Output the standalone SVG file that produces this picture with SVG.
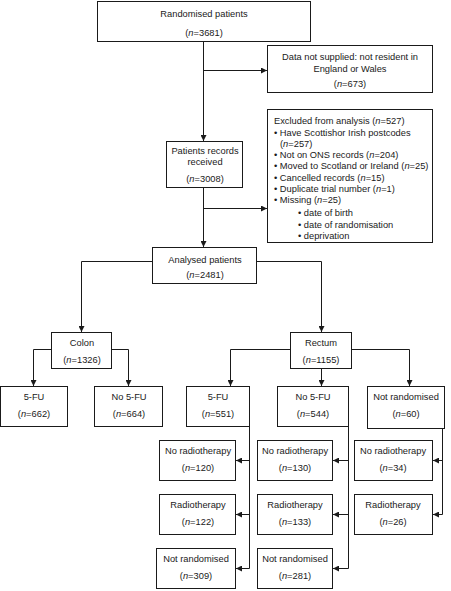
<svg xmlns="http://www.w3.org/2000/svg" width="451" height="591" viewBox="0 0 451 591">
<defs>
<marker id="ah" viewBox="0 0 6 6" refX="6" refY="3" markerWidth="6" markerHeight="6" markerUnits="userSpaceOnUse" orient="auto">
<path d="M0,0 L6,3 L0,6 Z" fill="#1a1a1a"/>
</marker>
<style>
.b{fill:#fff;stroke:#1a1a1a;stroke-width:1}
.c{fill:none;stroke:#1a1a1a;stroke-width:1}
.a{marker-end:url(#ah)}
text{font-family:"Liberation Sans",Arial,sans-serif;font-size:9.3px;fill:#1a1a1a}
.m{text-anchor:middle}
</style>
</defs>
<rect width="451" height="591" fill="#fff"/>
<g id="connectors">
<path class="c a" d="M203.5,42 V141"/>
<path class="c a" d="M203.5,70.5 H267"/>
<path class="c a" d="M203.5,188 V247"/>
<path class="c a" d="M203.5,208.5 H267"/>
<path class="c a" d="M152,261.5 H81.5 V332"/>
<path class="c a" d="M257,261.5 H321.5 V332"/>
<path class="c a" d="M51,349.5 H33.5 V386"/>
<path class="c a" d="M112,349.5 H128.5 V386"/>
<path class="c a" d="M290,349.5 H230.5 V386"/>
<path class="c a" d="M321.5,368 V386"/>
<path class="c a" d="M352,349.5 H409.5 V386"/>
<path class="c a" d="M249.5,426 V568.5 H236"/>
<path class="c a" d="M249.5,460.5 H236"/>
<path class="c a" d="M249.5,514.5 H236"/>
<path class="c a" d="M348.5,426 V568.5 H333"/>
<path class="c a" d="M348.5,460.5 H333"/>
<path class="c a" d="M348.5,514.5 H333"/>
<path class="c a" d="M442.5,429 V514.5 H433"/>
<path class="c a" d="M442.5,460.5 H433"/>
</g>
<g id="randomised">
<rect class="b" x="97.5" y="1.5" width="213" height="40"/>
<text class="m" x="204" y="17">Randomised patients</text>
<text class="m" x="204" y="36">(<tspan font-style="italic">n</tspan>=3681)</text>
</g>
<g id="not-supplied">
<rect class="b" x="267.5" y="45.5" width="165" height="47"/>
<text class="m" x="350" y="60">Data not supplied: not resident in</text>
<text class="m" x="350" y="72">England or Wales</text>
<text class="m" x="350" y="87">(<tspan font-style="italic">n</tspan>=673)</text>
</g>
<g id="records">
<rect class="b" x="166.5" y="141.5" width="76" height="46"/>
<text class="m" x="205" y="154">Patients records</text>
<text class="m" x="205" y="165">received</text>
<text class="m" x="205" y="182">(<tspan font-style="italic">n</tspan>=3008)</text>
</g>
<g id="excluded">
<rect class="b" x="267.5" y="109.5" width="165" height="133"/>
<text x="274" y="124">Excluded from analysis (<tspan font-style="italic">n</tspan>=527)</text>
<text x="274" y="135.5">• Have Scottishor Irish postcodes</text>
<text x="280" y="146.5">(<tspan font-style="italic">n</tspan>=257)</text>
<text x="274" y="157.5">• Not on ONS records (<tspan font-style="italic">n</tspan>=204)</text>
<text x="274" y="169">• Moved to Scotland or Ireland (<tspan font-style="italic">n</tspan>=25)</text>
<text x="274" y="180.5">• Cancelled records (<tspan font-style="italic">n</tspan>=15)</text>
<text x="274" y="192">• Duplicate trial number (<tspan font-style="italic">n</tspan>=1)</text>
<text x="274" y="203">• Missing (<tspan font-style="italic">n</tspan>=25)</text>
<text x="298" y="216">• date of birth</text>
<text x="298" y="227.5">• date of randomisation</text>
<text x="298" y="238.5">• deprivation</text>
</g>
<g id="analysed">
<rect class="b" x="152.5" y="247.5" width="104" height="36"/>
<text class="m" x="205" y="263">Analysed patients</text>
<text class="m" x="205" y="277.5">(<tspan font-style="italic">n</tspan>=2481)</text>
</g>
<g id="colon">
<rect class="b" x="51.5" y="332.5" width="60" height="36"/>
<text class="m" x="82" y="346">Colon</text>
<text class="m" x="82" y="363">(<tspan font-style="italic">n</tspan>=1326)</text>
</g>
<g id="rectum">
<rect class="b" x="290.5" y="332.5" width="61" height="36"/>
<text class="m" x="321" y="346">Rectum</text>
<text class="m" x="321" y="363">(<tspan font-style="italic">n</tspan>=1155)</text>
</g>
<g id="colon-5fu">
<rect class="b" x="0.5" y="386.5" width="67" height="40"/>
<text class="m" x="34" y="400">5-FU</text>
<text class="m" x="34" y="417">(<tspan font-style="italic">n</tspan>=662)</text>
</g>
<g id="colon-no5fu">
<rect class="b" x="94.5" y="386.5" width="68" height="40"/>
<text class="m" x="129" y="400">No 5-FU</text>
<text class="m" x="129" y="417">(<tspan font-style="italic">n</tspan>=664)</text>
</g>
<g id="rectum-5fu">
<rect class="b" x="186.5" y="386.5" width="63" height="40"/>
<text class="m" x="218" y="400">5-FU</text>
<text class="m" x="218" y="417">(<tspan font-style="italic">n</tspan>=551)</text>
</g>
<g id="rectum-no5fu">
<rect class="b" x="277.5" y="386.5" width="71" height="40"/>
<text class="m" x="313" y="400">No 5-FU</text>
<text class="m" x="313" y="417">(<tspan font-style="italic">n</tspan>=544)</text>
</g>
<g id="rectum-notrand">
<rect class="b" x="367.5" y="386.5" width="77" height="42"/>
<text class="m" x="406" y="400">Not randomised</text>
<text class="m" x="406" y="417">(<tspan font-style="italic">n</tspan>=60)</text>
</g>
<g id="fu-norad">
<rect class="b" x="159.5" y="440.5" width="76" height="40"/>
<text class="m" x="198" y="454">No radiotherapy</text>
<text class="m" x="198" y="471">(<tspan font-style="italic">n</tspan>=120)</text>
</g>
<g id="fu-rad">
<rect class="b" x="159.5" y="494.5" width="76" height="40"/>
<text class="m" x="198" y="508">Radiotherapy</text>
<text class="m" x="198" y="525">(<tspan font-style="italic">n</tspan>=122)</text>
</g>
<g id="fu-notrand">
<rect class="b" x="156.5" y="548.5" width="79" height="40"/>
<text class="m" x="196" y="562">Not randomised</text>
<text class="m" x="196" y="579">(<tspan font-style="italic">n</tspan>=309)</text>
</g>
<g id="nofu-norad">
<rect class="b" x="257.5" y="440.5" width="75" height="40"/>
<text class="m" x="295" y="454">No radiotherapy</text>
<text class="m" x="295" y="471">(<tspan font-style="italic">n</tspan>=130)</text>
</g>
<g id="nofu-rad">
<rect class="b" x="257.5" y="494.5" width="75" height="40"/>
<text class="m" x="295" y="508">Radiotherapy</text>
<text class="m" x="295" y="525">(<tspan font-style="italic">n</tspan>=133)</text>
</g>
<g id="nofu-notrand">
<rect class="b" x="257.5" y="548.5" width="75" height="40"/>
<text class="m" x="295" y="562">Not randomised</text>
<text class="m" x="295" y="579">(<tspan font-style="italic">n</tspan>=281)</text>
</g>
<g id="nr-norad">
<rect class="b" x="354.5" y="440.5" width="78" height="40"/>
<text class="m" x="393" y="454">No radiotherapy</text>
<text class="m" x="393" y="471">(<tspan font-style="italic">n</tspan>=34)</text>
</g>
<g id="nr-rad">
<rect class="b" x="354.5" y="494.5" width="78" height="40"/>
<text class="m" x="393" y="508">Radiotherapy</text>
<text class="m" x="393" y="525">(<tspan font-style="italic">n</tspan>=26)</text>
</g>
</svg>
